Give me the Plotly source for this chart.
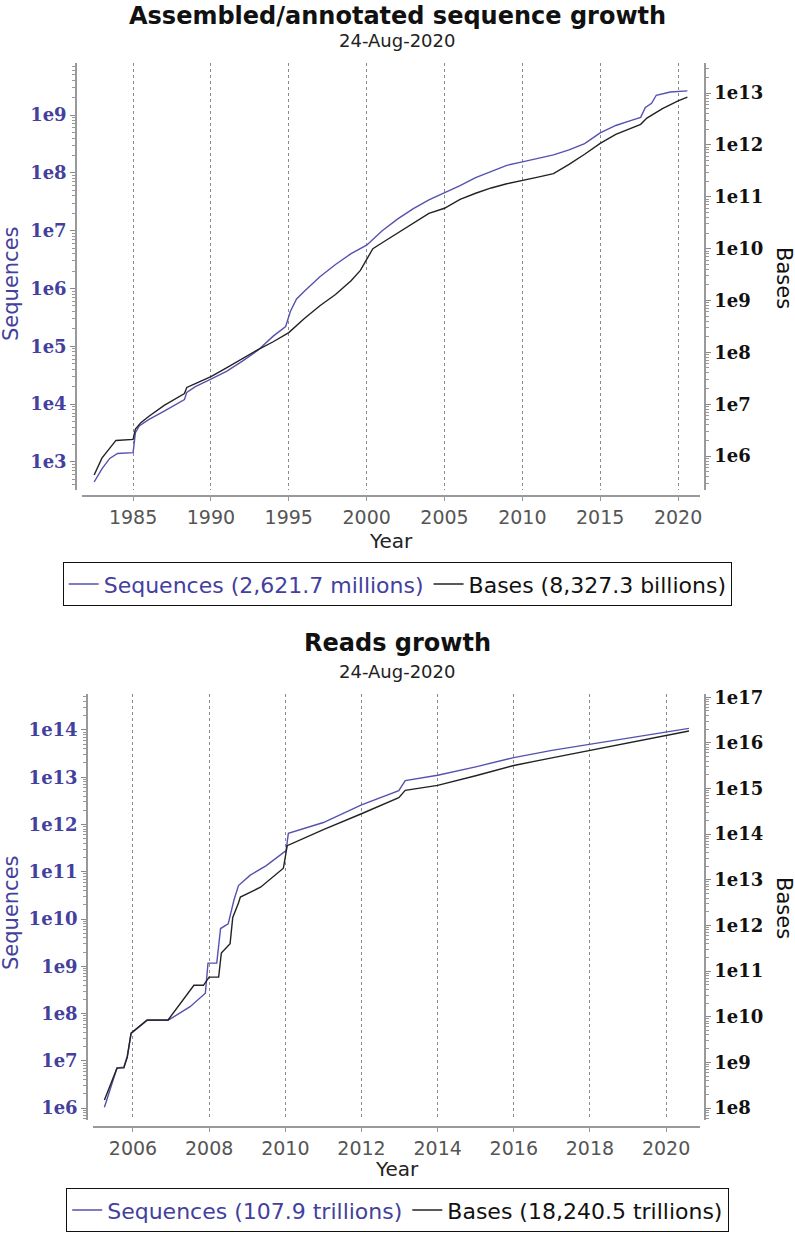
import plotly.graph_objects as go

W, H = 795, 1233
PURPLE = "#43409e"
LINE_PURPLE = "#5551b0"

# ---------------- Assembled/annotated sequence growth ----------------
asm_seq_years = [1982.5, 1983.0, 1983.5, 1984.0, 1985.0, 1985.15, 1985.4, 1986.0, 1987.0,
                 1988.3, 1988.45, 1989.0, 1990.0, 1991.0, 1992.0, 1993.0, 1994.0, 1994.8,
                 1995.1, 1995.5, 1996.0, 1997.0, 1998.0, 1999.0, 2000.0, 2001.0, 2002.0,
                 2003.0, 2004.0, 2005.0, 2006.0, 2007.0, 2008.0, 2009.0, 2010.0, 2011.0,
                 2012.0, 2013.0, 2014.0, 2015.0, 2016.0, 2017.0, 2017.6, 2017.9, 2018.3,
                 2018.6, 2019.5, 2020.6]
asm_sequences = [4.5e2, 7.6e2, 1.15e3, 1.4e3, 1.45e3, 3.2e3, 4.2e3, 5.4e3, 7.6e3,
                 1.2e4, 1.6e4, 2.0e4, 2.7e4, 3.7e4, 5.5e4, 8.5e4, 1.5e5, 2.2e5,
                 4.0e5, 6.6e5, 9.0e5, 1.6e6, 2.6e6, 4.0e6, 5.6e6, 1.0e7, 1.6e7,
                 2.4e7, 3.4e7, 4.5e7, 6.0e7, 8.3e7, 1.07e8, 1.35e8, 1.55e8, 1.8e8,
                 2.05e8, 2.5e8, 3.2e8, 4.9e8, 6.6e8, 8.1e8, 9.1e8, 1.35e9, 1.6e9,
                 2.2e9, 2.5e9, 2.6217e9]

asm_base_years = [1982.5, 1983.0, 1983.9, 1985.0, 1985.15, 1985.5, 1986.0, 1987.0, 1988.3,
                  1988.45, 1989.0, 1990.0, 1991.0, 1992.0, 1993.0, 1994.0, 1995.0, 1996.0,
                  1997.0, 1998.0, 1999.0, 1999.6, 2000.0, 2000.4, 2001.0, 2002.0, 2003.0,
                  2004.0, 2005.0, 2006.0, 2007.0, 2008.0, 2009.0, 2010.0, 2011.0, 2012.0,
                  2013.0, 2014.0, 2015.0, 2016.0, 2017.0, 2017.6, 2018.0, 2019.0, 2020.0,
                  2020.6]
asm_bases = [4.3e5, 9.1e5, 2.0e6, 2.1e6, 3.3e6, 4.4e6, 5.8e6, 9.5e6, 1.6e7,
             2.1e7, 2.5e7, 3.4e7, 5.0e7, 7.6e7, 1.12e8, 1.6e8, 2.4e8, 4.5e8,
             7.9e8, 1.3e9, 2.4e9, 3.8e9, 6.0e9, 1.0e10, 1.3e10, 2.0e10, 3.2e10,
             4.8e10, 6.0e10, 8.9e10, 1.17e11, 1.48e11, 1.78e11, 2.1e11, 2.4e11, 2.8e11,
             4.2e11, 6.6e11, 1.07e12, 1.6e12, 2.1e12, 2.5e12, 3.3e12, 5.0e12, 7.1e12,
             8.3273e12]

# ---------------- Reads growth ----------------
reads_seq_years = [2005.25, 2005.58, 2005.76, 2005.85, 2005.95, 2006.37, 2006.92, 2007.5,
                   2007.9, 2007.97, 2008.2, 2008.3, 2008.5, 2008.65, 2008.77, 2009.08,
                   2009.5, 2009.87, 2010.02, 2010.08, 2011.0, 2012.0, 2012.98, 2013.15,
                   2014.0, 2015.0, 2016.0, 2017.0, 2018.0, 2019.0, 2020.0, 2020.6]
reads_sequences = [1.05e6, 7.1e6, 7.4e6, 1.26e7, 3.8e7, 7.2e7, 7.2e7, 1.4e8,
                   2.7e8, 1.17e9, 1.17e9, 6.3e9, 7.9e9, 2.5e10, 5.1e10, 8.5e10,
                   1.35e11, 2.2e11, 2.8e11, 6.5e11, 1.1e12, 2.6e12, 5.2e12, 8.5e12,
                   1.1e13, 1.66e13, 2.6e13, 3.7e13, 5.0e13, 6.8e13, 8.9e13, 1.079e14]

reads_base_years = [2005.25, 2005.58, 2005.76, 2005.85, 2005.95, 2006.37, 2006.92, 2007.5,
                    2007.6, 2007.85, 2008.0, 2008.25, 2008.32, 2008.55, 2008.62, 2008.77,
                    2008.82, 2009.35, 2009.95, 2010.05, 2011.0, 2012.0, 2012.98, 2013.15,
                    2014.0, 2015.0, 2016.0, 2017.0, 2018.0, 2019.0, 2020.0, 2020.6]
reads_bases = [1.5e8, 7.5e8, 7.6e8, 1.3e9, 4.4e9, 8.5e9, 8.5e9, 3.8e10,
               4.9e10, 4.9e10, 7.4e10, 7.4e10, 2.5e11, 4.0e11, 1.5e12, 3.1e12,
               4.2e12, 6.9e12, 1.8e13, 5.6e13, 1.26e14, 2.8e14, 6.3e14, 9.1e14,
               1.17e15, 1.9e15, 3.2e15, 4.7e15, 6.8e15, 1.0e16, 1.45e16, 1.824e16]

# ---------------- Ticks ----------------
top_year_ticks = [1985, 1990, 1995, 2000, 2005, 2010, 2015, 2020]
bottom_year_ticks = [2006, 2008, 2010, 2012, 2014, 2016, 2018, 2020]
top_seq_exps = [3, 4, 5, 6, 7, 8, 9]
top_base_exps = [6, 7, 8, 9, 10, 11, 12, 13]
bot_seq_exps = [6, 7, 8, 9, 10, 11, 12, 13, 14]
bot_base_exps = [8, 9, 10, 11, 12, 13, 14, 15, 16, 17]

top_legend = ["Sequences (2,621.7 millions)", "Bases (8,327.3 billions)"]
bot_legend = ["Sequences (107.9 trillions)", "Bases (18,240.5 trillions)"]


def py(px):
    return 1 - px / H


def yax(exps, rng, color, side, position, domain=None, overlay=None):
    d = dict(
        type="log", range=rng, side=side, anchor="free", position=position,
        tickvals=[10 ** e for e in exps], ticktext=[f"1e{e}" for e in exps],
        tickfont=dict(family="DejaVu Serif", size=18, color=color, weight="bold"),
        ticks="outside", ticklen=5, tickcolor="#888", tickwidth=1,
        showline=True, linecolor="#999", linewidth=1.5,
        showgrid=False, zeroline=False, automargin=False,
        minor=dict(ticks="outside", ticklen=3, tickcolor="#999", dtick="D1", showgrid=False),
    )
    if domain is not None:
        d["domain"] = domain
    if overlay is not None:
        d["overlaying"] = overlay
    return d


def xax(ticks, rng, domain, position):
    return dict(
        range=rng, domain=domain, anchor="free", position=position,
        tickvals=ticks, ticktext=[str(t) for t in ticks],
        tickfont=dict(family="DejaVu Sans", size=19, color="#555"),
        ticks="outside", ticklen=4, tickcolor="#999",
        showline=True, linecolor="#999", linewidth=1.5,
        showgrid=True, gridcolor="#8a8a8a", gridwidth=1, griddash="3px,3px",
        zeroline=False, automargin=False,
    )


fig = go.Figure()
fig.add_trace(go.Scatter(x=asm_seq_years, y=asm_sequences, mode="lines",
                         line=dict(color=LINE_PURPLE, width=1.4), xaxis="x", yaxis="y",
                         name=f"<span style='color:{PURPLE}'>{top_legend[0]}</span>", legend="legend"))
fig.add_trace(go.Scatter(x=asm_base_years, y=asm_bases, mode="lines",
                         line=dict(color="#222", width=1.4), xaxis="x", yaxis="y2",
                         name=top_legend[1], legend="legend"))
fig.add_trace(go.Scatter(x=reads_seq_years, y=reads_sequences, mode="lines",
                         line=dict(color=LINE_PURPLE, width=1.4), xaxis="x2", yaxis="y3",
                         name=f"<span style='color:{PURPLE}'>{bot_legend[0]}</span>", legend="legend2"))
fig.add_trace(go.Scatter(x=reads_base_years, y=reads_bases, mode="lines",
                         line=dict(color="#222", width=1.4), xaxis="x2", yaxis="y4",
                         name=bot_legend[1], legend="legend2"))

legend_common = dict(orientation="h", xanchor="center", x=0.5, yanchor="top",
                     xref="container", yref="container",
                     bordercolor="#111", borderwidth=1.2, bgcolor="white",
                     font=dict(family="DejaVu Sans", size=22, color="#111"),
                     itemwidth=30, tracegroupgap=0, itemclick=False)

fig.update_layout(
    width=W, height=H, margin=dict(l=0, r=0, t=0, b=0, autoexpand=False),
    paper_bgcolor="white", plot_bgcolor="white", showlegend=True,
    xaxis=xax(top_year_ticks, [1981.72, 2021.41], [82 / W, 700 / W], py(496)),
    yaxis=yax(top_seq_exps, [2.515, 9.9], PURPLE, "left", 76 / W, domain=[py(490), py(63)]),
    yaxis2=yax(top_base_exps, [5.345, 13.58], "#111", "right", 705 / W, overlay="y"),
    xaxis2=xax(bottom_year_ticks, [2004.95, 2020.89], [93 / W, 700 / W], py(1127)),
    yaxis3=yax(bot_seq_exps, [5.75, 14.76], PURPLE, "left", 87 / W, domain=[py(1120), py(694)]),
    yaxis4=yax(bot_base_exps, [7.74, 17.07], "#111", "right", 705 / W, overlay="y3"),
    legend=dict(**legend_common, y=py(562)),
    legend2=dict(**legend_common, y=py(1188)),
)

ann = []
def text(t, x, y, size, color="#111", angle=0, bold=False, family="DejaVu Sans"):
    ann.append(dict(text=f"<b>{t}</b>" if bold else t, x=x / W, y=py(y), xref="paper", yref="paper",
                    showarrow=False, textangle=angle, xanchor="center", yanchor="middle",
                    font=dict(family=family, size=size, color=color)))

text("Assembled/annotated sequence growth", 397, 16, 24, bold=True)
text("24-Aug-2020", 397, 40, 18, color="#222")
text("Year", 391, 541, 20, color="#222")
text("Sequences", 11, 284, 21, color=PURPLE, angle=-90)
text("Bases", 784, 278, 21, color="#111", angle=90)

text("Reads growth", 397, 643, 24, bold=True)
text("24-Aug-2020", 397, 671, 18, color="#222")
text("Year", 397, 1169, 20, color="#222")
text("Sequences", 11, 913, 21, color=PURPLE, angle=-90)
text("Bases", 784, 908, 21, color="#111", angle=90)

fig.update_layout(annotations=ann)
fig.write_html("out.html", config={"displayModeBar": False},
               post_script="document.body.style.margin='0';")
